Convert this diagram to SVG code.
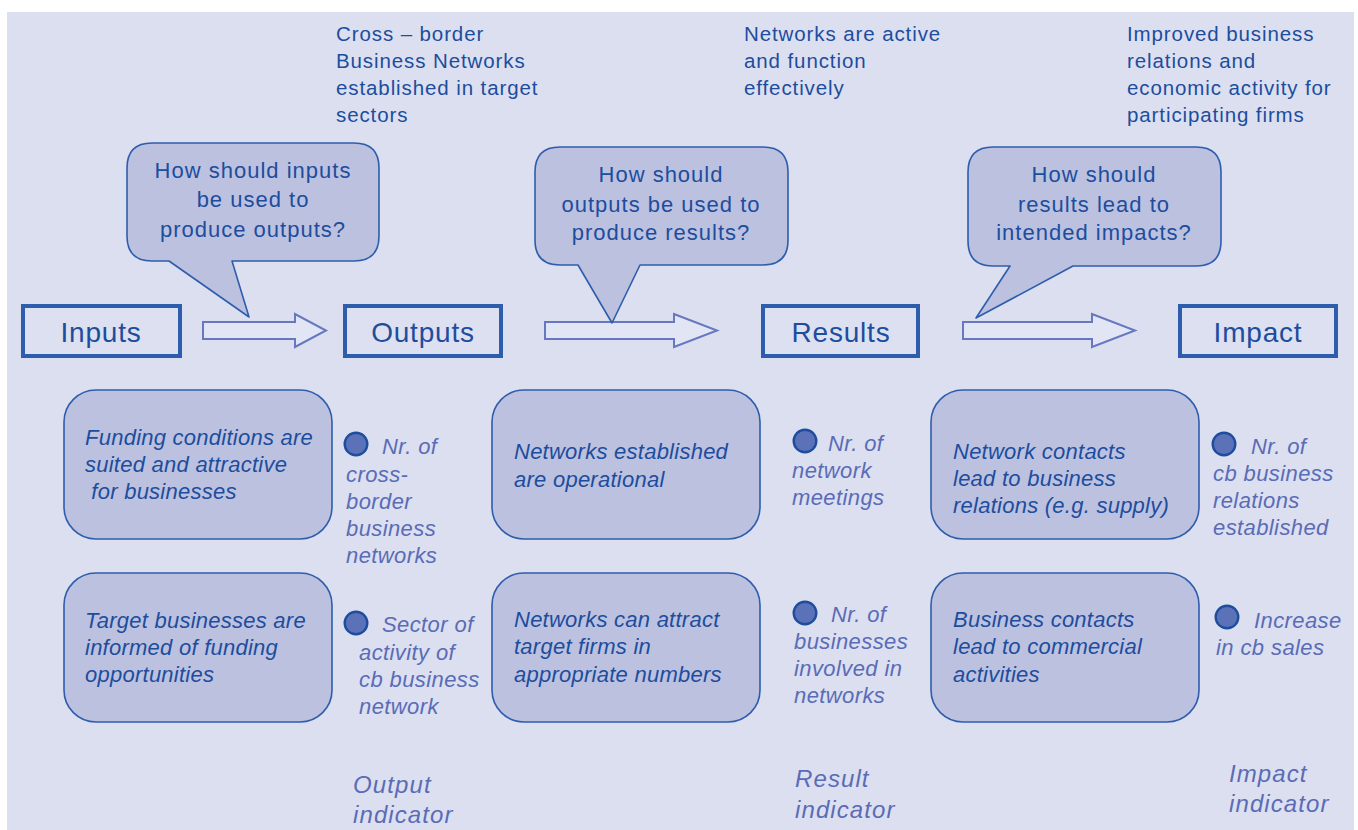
<svg xmlns="http://www.w3.org/2000/svg" width="1358" height="830" viewBox="0 0 1358 830">
<style>
.t{font-family:"Liberation Sans",Arial,sans-serif;fill:#1d4d9d}
.top{font-size:20.5px;letter-spacing:0.9px}
.call{font-size:22px;letter-spacing:1px;text-anchor:middle}
.lab{font-size:28px;letter-spacing:0.8px;text-anchor:middle}
.box{font-size:22px;font-style:italic;letter-spacing:0.25px}
.ind{font-family:"Liberation Sans",Arial,sans-serif;fill:#5a6cb6;font-size:22px;font-style:italic;letter-spacing:0.4px}
.bot{font-family:"Liberation Sans",Arial,sans-serif;fill:#5a6cb6;font-size:24px;font-style:italic;letter-spacing:1.1px}
.stage{fill:#dde0f1;stroke:#2e5dab;stroke-width:4}
.rbox{fill:#bcc1e0;stroke:#2e5dab;stroke-width:1.6}
.bubble{fill:#bcc1e0;stroke:#2e5dab;stroke-width:1.6;stroke-linejoin:round}
.arrow{fill:#e2e5f4;stroke:#6678c0;stroke-width:2}
.dot{fill:#5b72b8;stroke:#1d4d9d;stroke-width:2.4}
</style>
<rect x="0" y="0" width="1358" height="830" fill="#ffffff"/>
<rect x="7" y="12" width="1347" height="818" fill="#dcdff0"/>

<g id="top-texts">
<text class="t top"><tspan x="336" y="41">Cross – border</tspan><tspan x="336" y="68">Business Networks</tspan><tspan x="336" y="95">established in target</tspan><tspan x="336" y="122">sectors</tspan></text>
<text class="t top"><tspan x="744" y="41">Networks are active</tspan><tspan x="744" y="68">and function</tspan><tspan x="744" y="95">effectively</tspan></text>
<text class="t top"><tspan x="1127" y="41">Improved business</tspan><tspan x="1127" y="68">relations and</tspan><tspan x="1127" y="95">economic activity for</tspan><tspan x="1127" y="122">participating firms</tspan></text>
</g>

<g id="connectors">
<polygon class="arrow" points="203,322 295,322 295,314 326,330.5 295,347 295,339 203,339"/>
<polygon class="arrow" points="545,322 674,322 674,314 717,330.5 674,347 674,339 545,339"/>
<polygon class="arrow" points="963,322 1092,322 1092,314 1135,330.5 1092,347 1092,339 963,339"/>
</g>

<g id="callout-1">
<path class="bubble" d="M152,143 H354 Q379,143 379,168 V236 Q379,261 354,261 H232 L249,317 L169,261 H152 Q127,261 127,236 V168 Q127,143 152,143 Z"/>
<text class="t call"><tspan x="253" y="178">How should inputs</tspan><tspan x="253" y="207">be used to</tspan><tspan x="253" y="237">produce outputs?</tspan></text>
</g>
<g id="callout-2">
<path class="bubble" d="M560,147 H763 Q788,147 788,172 V240 Q788,265 763,265 H640 L612,323 L578,265 H560 Q535,265 535,240 V172 Q535,147 560,147 Z"/>
<text class="t call"><tspan x="661" y="182">How should</tspan><tspan x="661" y="212">outputs be used to</tspan><tspan x="661" y="240">produce results?</tspan></text>
</g>
<g id="callout-3">
<path class="bubble" d="M993,147 H1196 Q1221,147 1221,172 V241 Q1221,266 1196,266 H1073 L976,318 L1010,266 H993 Q968,266 968,241 V172 Q968,147 993,147 Z"/>
<text class="t call"><tspan x="1094" y="182">How should</tspan><tspan x="1094" y="212">results lead to</tspan><tspan x="1094" y="240">intended impacts?</tspan></text>
</g>

<g id="inputs"><rect class="stage" x="23" y="306" width="157" height="50"/><text class="t lab" x="101" y="342">Inputs</text></g>
<g id="outputs"><rect class="stage" x="345" y="306" width="156" height="50"/><text class="t lab" x="423" y="342">Outputs</text></g>
<g id="results"><rect class="stage" x="763" y="306" width="155" height="50"/><text class="t lab" x="841" y="342">Results</text></g>
<g id="impact"><rect class="stage" x="1180" y="306" width="156" height="50"/><text class="t lab" x="1258" y="342">Impact</text></g>

<g id="box-funding">
<rect class="rbox" x="64" y="390" width="268" height="149" rx="32"/>
<text class="t box"><tspan x="85" y="445">Funding conditions are</tspan><tspan x="85" y="472">suited and attractive</tspan><tspan x="85" y="499"> for businesses</tspan></text>
</g>
<g id="box-target">
<rect class="rbox" x="64" y="573" width="268" height="149" rx="32"/>
<text class="t box"><tspan x="85" y="628">Target businesses are</tspan><tspan x="85" y="655">informed of funding</tspan><tspan x="85" y="682">opportunities</tspan></text>
</g>
<g id="box-operational">
<rect class="rbox" x="492" y="390" width="268" height="149" rx="32"/>
<text class="t box"><tspan x="514" y="459">Networks established</tspan><tspan x="514" y="487">are operational</tspan></text>
</g>
<g id="box-attract">
<rect class="rbox" x="492" y="573" width="268" height="149" rx="32"/>
<text class="t box"><tspan x="514" y="627">Networks can attract</tspan><tspan x="514" y="654">target firms in</tspan><tspan x="514" y="682">appropriate numbers</tspan></text>
</g>
<g id="box-contacts">
<rect class="rbox" x="931" y="390" width="268" height="149" rx="32"/>
<text class="t box"><tspan x="953" y="459">Network contacts</tspan><tspan x="953" y="486">lead to business</tspan><tspan x="953" y="513">relations (e.g. supply)</tspan></text>
</g>
<g id="box-commercial">
<rect class="rbox" x="931" y="573" width="268" height="149" rx="32"/>
<text class="t box"><tspan x="953" y="627">Business contacts</tspan><tspan x="953" y="654">lead to commercial</tspan><tspan x="953" y="682">activities</tspan></text>
</g>

<g id="ind-1">
<circle class="dot" cx="356" cy="444" r="11.3"/>
<text class="ind"><tspan x="382" y="454">Nr. of</tspan><tspan x="346" y="482">cross-</tspan><tspan x="346" y="509">border</tspan><tspan x="346" y="536">business</tspan><tspan x="346" y="563">networks</tspan></text>
</g>
<g id="ind-2">
<circle class="dot" cx="356" cy="623" r="11.3"/>
<text class="ind"><tspan x="382" y="632">Sector of</tspan><tspan x="359" y="660">activity of</tspan><tspan x="359" y="687">cb business</tspan><tspan x="359" y="714">network</tspan></text>
</g>
<g id="ind-3">
<circle class="dot" cx="805" cy="441" r="11.3"/>
<text class="ind"><tspan x="828" y="451">Nr. of</tspan><tspan x="792" y="478">network</tspan><tspan x="792" y="505">meetings</tspan></text>
</g>
<g id="ind-4">
<circle class="dot" cx="805" cy="613" r="11.3"/>
<text class="ind"><tspan x="831" y="622">Nr. of</tspan><tspan x="794" y="649">businesses</tspan><tspan x="794" y="676">involved in</tspan><tspan x="794" y="703">networks</tspan></text>
</g>
<g id="ind-5">
<circle class="dot" cx="1224" cy="444" r="11.3"/>
<text class="ind"><tspan x="1251" y="454">Nr. of</tspan><tspan x="1213" y="481">cb business</tspan><tspan x="1213" y="508">relations</tspan><tspan x="1213" y="535">established</tspan></text>
</g>
<g id="ind-6">
<circle class="dot" cx="1227" cy="617" r="11.3"/>
<text class="ind"><tspan x="1254" y="628">Increase</tspan><tspan x="1216" y="655">in cb sales</tspan></text>
</g>

<g id="indicator-labels">
<text class="bot"><tspan x="353" y="793">Output</tspan><tspan x="353" y="823">indicator</tspan></text>
<text class="bot"><tspan x="795" y="787">Result</tspan><tspan x="795" y="818">indicator</tspan></text>
<text class="bot"><tspan x="1229" y="782">Impact</tspan><tspan x="1229" y="812">indicator</tspan></text>
</g>
</svg>
